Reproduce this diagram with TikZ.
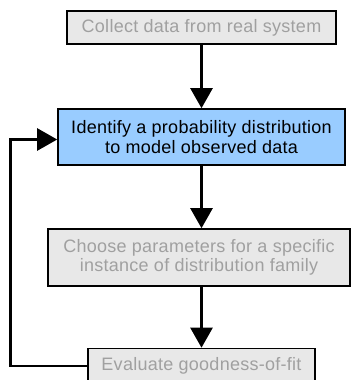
\documentclass[tikz,border=0pt]{standalone}
\usepackage{fontspec}
\setmainfont{Liberation Sans}[LetterSpace=1.5]
\usetikzlibrary{arrows.meta}
\definecolor{boxgray}{HTML}{E8E8E8}
\definecolor{txtgray}{HTML}{A0A0A0}
\definecolor{boxblue}{HTML}{99CCFF}
\begin{document}
\begin{tikzpicture}[x=1pt,y=1pt,
  stage/.style={draw=black, line width=1.6pt, fill=boxgray, text=txtgray,
    inner sep=0pt, align=center,
    font=\fontsize{18}{19.5}\selectfont},
  current/.style={stage, fill=boxblue, text=black},
  flow/.style={line width=2.5pt, -{Triangle[length=20pt,width=22pt]}}]
\useasboundingbox (0,0) rectangle (351,-380);

\node[stage, minimum width=269pt, minimum height=33pt] (collect) at (201.5,-27.5)
  {Collect data from real system};
\node[current, minimum width=287pt, minimum height=56pt] (identify) at (201.5,-137)
  {Identify a probability distribution\\to model observed data};
\node[stage, minimum width=302pt, minimum height=57pt] (choose) at (199,-257.5)
  {Choose parameters for a specific\\instance of distribution family};
\node[stage, minimum width=227pt, minimum height=35pt] (evaluate) at (201.5,-366)
  {Evaluate goodness-of-fit};

\draw[flow] (collect.south) -- (identify.north);
\draw[flow] (identify.south) -- (identify.south |- choose.north);
\draw[flow] (identify.south |- choose.south) -- (evaluate.north);
\coordinate (loop) at (10.5,-366);
\draw[flow] (evaluate.west) -- (loop) |- ([yshift=-2.5pt]identify.west);
\end{tikzpicture}
\end{document}
